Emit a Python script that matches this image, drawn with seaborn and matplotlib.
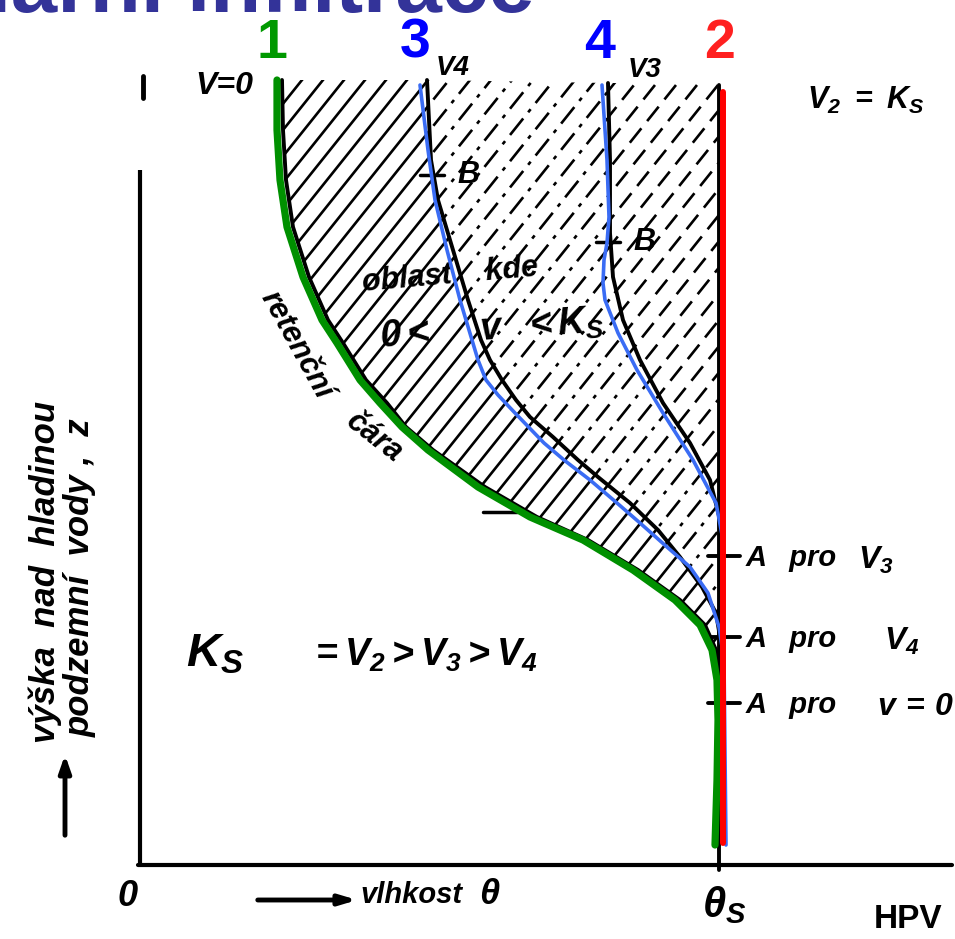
import numpy as np
import matplotlib
matplotlib.use("Agg")
import matplotlib.pyplot as plt
import seaborn as sns
from matplotlib.patches import Polygon
from matplotlib.collections import LineCollection

sns.set_style("white")
plt.rcParams['font.family'] = ['Liberation Sans', 'DejaVu Sans']
plt.rcParams['mathtext.fontset'] = 'custom'
plt.rcParams['mathtext.it'] = 'Liberation Sans:italic:bold'
plt.rcParams['mathtext.rm'] = 'Liberation Sans:italic:bold'
plt.rcParams['mathtext.bf'] = 'Liberation Sans:italic:bold'

# ---------------- data (diagram coordinates: x = moisture, y = depth in image units) ----
# curve 1 (green) - retention curve v = 0
green_y = [80, 130, 180, 227, 277, 320, 343, 380, 403, 427, 450, 487, 517, 540, 570, 600, 625, 650, 680, 720, 780, 845]
green_x = [277, 277, 280, 287, 303, 322, 337, 360, 380, 402, 428, 478, 530, 583, 633, 675, 700, 712, 717, 718, 717, 715]
# printed black retention curve
ret_y = [80, 130, 180, 227, 277, 320, 343, 380, 403, 427, 450, 487, 517, 540, 570, 600, 625, 650, 680, 720]
ret_x = [282, 283, 286, 293, 309, 328, 343, 366, 387, 406, 433, 485, 537, 588, 638, 680, 705, 716, 720, 721]
# curve 3 (blue) - flux v4
c3_y = [85, 150, 200, 250, 300, 340, 360, 380, 395, 413, 443, 460, 480, 503, 523, 547, 567, 593, 627, 660, 845]
c3_x = [420, 428, 435, 447, 460, 472, 478, 486, 498, 515, 544, 564, 590, 617, 640, 667, 690, 708, 719, 724, 726]
# printed black v4 curve
v4_y = [80, 160, 200, 250, 300, 340, 360, 380, 400, 417, 437, 460, 477, 503, 530, 557, 587, 613, 637]
v4_x = [427, 431, 438, 453, 468, 481, 490, 502, 516, 530, 553, 578, 598, 630, 658, 680, 702, 716, 720]
# curve 4 (blue) - flux v3
c4_y = [85, 160, 217, 243, 260, 283, 300, 333, 370, 413, 460, 503, 540]
c4_x = [602, 607, 609, 607, 604, 603, 605, 618, 637, 663, 693, 716, 723]
# printed black v3 curve
v3_y = [83, 160, 233, 277, 320, 360, 403, 443, 480, 520, 543]
v3_x = [608, 610, 610, 613, 623, 640, 663, 690, 710, 720, 722]
# curve 2 (red) - v2 = Ks (saturated)
c2_y = [92, 843]
c2_x = [723, 723]
theta_s_x = [719, 719]
theta_s_y = [85, 870]

# labels
num_labels = ["1", "3", "4", "2"]
num_x = [272, 415, 600, 720]
num_colors = ["#009900", "#0000ff", "#0000ff", "#ff2020"]
A_labels = [r"$V_3$", r"$V_4$", r"$v\,=\,0$"]
A_y = [556, 637, 703]
A_val_x = [858, 884, 877]
B_x = [432, 608]
B_y = [175, 242]

# ---------------- figure ----------------
fig = plt.figure(figsize=(9.55, 9.39), dpi=100)
ax = fig.add_axes([0, 0, 1, 1])
ax.set_xlim(0, 955)
ax.set_ylim(939, 0)
ax.axis('off')

hand = dict(fontstyle='italic', fontweight='bold', color='black', family='Liberation Sans')


def hatch(poly_xy, ls, spacing=21, slope=1.25, lw=1.9):
    poly = Polygon(poly_xy, closed=True, facecolor='none', edgecolor='none')
    ax.add_patch(poly)
    segs = []
    for c in np.arange(-900, 1800, spacing):
        segs.append([(c, 900), (c + 900 / slope, 0)])
    lc = LineCollection(segs, colors='black', linewidths=lw, linestyles=ls, zorder=1)
    ax.add_collection(lc)
    lc.set_clip_path(poly)


# hatched regions
reg1 = list(zip(ret_x, ret_y)) + [(719, 700)] + list(zip(v4_x, v4_y))[::-1]
reg2 = list(zip(v4_x, v4_y)) + [(719, 637), (719, 543)] + list(zip(v3_x, v3_y))[::-1]
reg3 = list(zip(v3_x, v3_y)) + [(719, 543), (719, 83)]
hatch(reg1, 'solid')
hatch(reg2, (0, (8, 3, 1.5, 3)))
hatch(reg3, (0, (7, 3.5)))

# printed black curves
for xs, ys in [(ret_x, ret_y), (v4_x, v4_y), (v3_x, v3_y), (theta_s_x, theta_s_y)]:
    sns.lineplot(x=xs, y=ys, sort=False, estimator=None, color='black', lw=2.8, ax=ax, zorder=2)

# coloured curves
sns.lineplot(x=green_x, y=green_y, sort=False, estimator=None, color='#009000', lw=5.2, ax=ax, zorder=4)
sns.lineplot(x=c3_x, y=c3_y, sort=False, estimator=None, color='#3a6cf4', lw=2.6, ax=ax, zorder=4)
sns.lineplot(x=c4_x, y=c4_y, sort=False, estimator=None, color='#3a6cf4', lw=2.6, ax=ax, zorder=4)
sns.lineplot(x=c2_x, y=c2_y, sort=False, estimator=None, color='#ff0000', lw=4.3, ax=ax, zorder=5)

# axes of the diagram
ax.plot([140, 140], [170, 866], color='black', lw=3, zorder=2, solid_capstyle='butt')
ax.plot([143, 143], [76, 98], color='black', lw=3.5, zorder=2)
ax.plot([138, 952], [865, 865], color='black', lw=3, zorder=2)

# title (cut at top)
ax.text(535, 12, "Kapilární infiltrace", ha='right', va='baseline', fontsize=60,
        fontweight='bold', color='#333399', family='Liberation Sans')

# coloured numbers
for t, x, c in zip(num_labels, num_x, num_colors):
    ax.text(x, 44, t, ha='center', va='center', fontsize=40, fontweight='bold', color=c,
            family='Liberation Sans')

# top labels
ax.text(224, 86, "V=0", ha='center', va='center', fontsize=23, **hand)
ax.text(453, 68, "V4", ha='center', va='center', fontsize=20, **hand)
ax.text(645, 70, "V3", ha='center', va='center', fontsize=20, **hand)
ax.text(866, 100, r"$V_2\ =\ K_S$", ha='center', va='center', fontsize=22, color='black')

# B marks
for bx, by in zip(B_x, B_y):
    ax.plot([bx - 12, bx + 12], [by, by], color='black', lw=2.5, zorder=3)
    ax.text(bx + 36, by, "B", ha='center', va='center', fontsize=22, **hand)

# region text
ax.text(450, 275, "oblast    kde", ha='center', va='center', fontsize=22, rotation=5, **hand)
ax.text(492, 330, r"$0<\ \ \ \ v\ \ <K_S$", ha='center', va='center', fontsize=27, rotation=4, color='black')
ax.text(296, 345, "retenční", ha='center', va='center', fontsize=22, rotation=-61, **hand)
ax.text(374, 437, "čára", ha='center', va='center', fontsize=22, rotation=-38, **hand)
ax.plot([483, 517], [512, 512], color='black', lw=2.5, zorder=3)

# Ks relation
ax.text(215, 655, r"$K_S$", ha='center', va='center', fontsize=34, color='black')
ax.text(423, 655, r"$=V_2>V_3>V_4$", ha='center', va='center', fontsize=27, color='black')

# A marks
for lab, ay, vx in zip(A_labels, A_y, A_val_x):
    ax.plot([708, 740], [ay, ay], color='black', lw=2.8, zorder=3)
    ax.text(746, ay + 2, "A   pro", ha='left', va='center', fontsize=21, **hand)
    ax.text(vx, ay + 4, lab, ha='left', va='center', fontsize=23, color='black')

# y-axis label
ax.text(45, 572, "výška  nad  hladinou", ha='center', va='center', rotation=90, fontsize=25, **hand)
ax.text(80, 578, "podzemní  vody ,  z", ha='center', va='center', rotation=90, fontsize=25, **hand)
ax.annotate("", xy=(65, 752), xytext=(65, 838),
            arrowprops=dict(arrowstyle='-|>,head_width=0.35,head_length=1.0', lw=3.5, color='black'))

# x-axis labels
ax.text(128, 897, "0", ha='center', va='center', fontsize=26, **hand)
ax.annotate("", xy=(360, 900), xytext=(255, 900),
            arrowprops=dict(arrowstyle='-|>,head_width=0.3,head_length=1.0', lw=3.5, color='black'))
ax.text(360, 895, "vlhkost", ha='left', va='center', fontsize=21, **hand)
ax.text(490, 895, r"$\theta$", ha='center', va='center', fontsize=26, color='black')
ax.text(724, 905, r"$\theta_S$", ha='center', va='center', fontsize=30, color='black')
ax.text(908, 920, "HPV", ha='center', va='center', fontsize=24, fontweight='bold',
        color='black', family='Liberation Sans')

fig.savefig("out.png", dpi=100)
